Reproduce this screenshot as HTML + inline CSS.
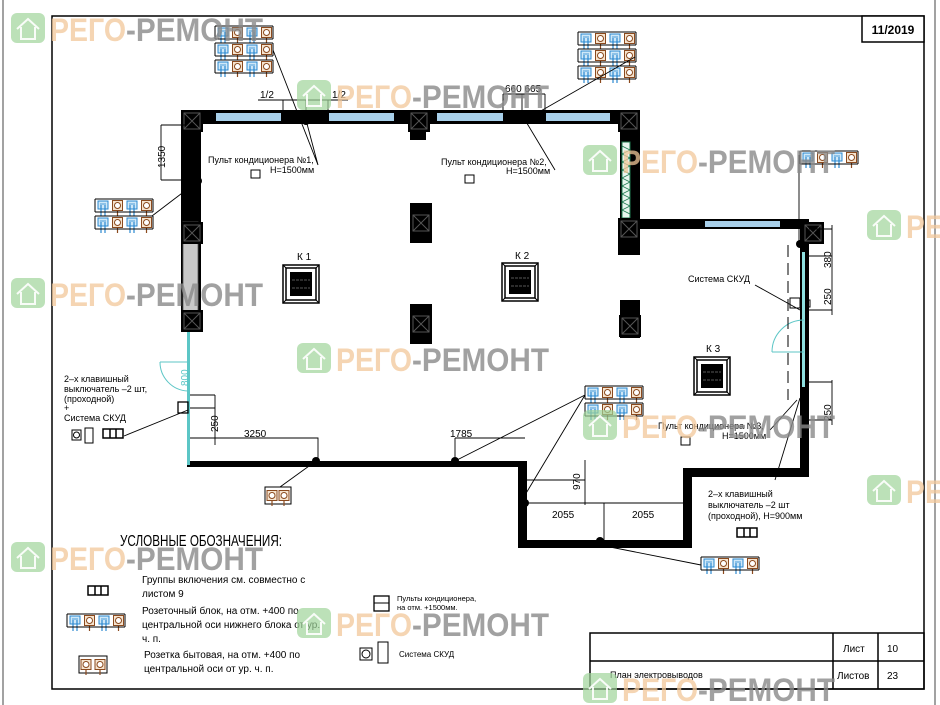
<!DOCTYPE html>
<html><head><meta charset="utf-8"><style>
html,body{margin:0;padding:0;background:#fff;}
svg{display:block;}
text{font-family:"Liberation Sans","DejaVu Sans",sans-serif;}
.wm1{fill:#f2c89a;opacity:.75;font-weight:bold;font-size:32px;}
.wm2{fill:#8a8a8a;opacity:.8;font-weight:bold;font-size:32px;}
.s{font-size:9px;fill:#000;}
.d{font-size:10px;fill:#000;}
</style></head><body>
<svg width="940" height="705" viewBox="0 0 940 705" xmlns="http://www.w3.org/2000/svg">
<defs>
<g id="bc">
<rect x="2" y="2" width="10" height="8" fill="#cfe8f8" stroke="#2a88d0" stroke-width="1"/>
<line x1="4" y1="5" x2="10" y2="5" stroke="#2a88d0" stroke-width="0.8"/>
<line x1="5" y1="6" x2="5" y2="17" stroke="#2a88d0" stroke-width="1.2"/>
<line x1="9" y1="6" x2="9" y2="17" stroke="#2a88d0" stroke-width="1.2"/>
</g>
<g id="rc">
<rect x="2" y="1.5" width="10" height="10" fill="#f6e4cf" stroke="#8b4a1e" stroke-width="1"/>
<circle cx="7" cy="6.5" r="3" fill="#fff" stroke="#8b4a1e" stroke-width="1"/>
<line x1="7" y1="11" x2="7" y2="17" stroke="#8b4a1e" stroke-width="1.2"/>
</g>
<g id="row">
<use href="#bc" x="1"/><use href="#rc" x="15.5"/><use href="#bc" x="30"/><use href="#rc" x="44.5"/>
<line x1="0" y1="0" x2="0" y2="13" stroke="#000" stroke-width="1"/>
<line x1="58" y1="0" x2="58" y2="13" stroke="#000" stroke-width="1"/>
<line x1="0" y1="13" x2="58" y2="13" stroke="#000" stroke-width="1"/>
<line x1="0" y1="0" x2="58" y2="0" stroke="#000" stroke-width="1"/>
</g>
<g id="col">
<rect x="0" y="0" width="22" height="22" fill="#000"/>
<path d="M3 3 L19 19 M19 3 L3 19" stroke="#555" stroke-width="1"/>
<rect x="3" y="3" width="16" height="16" fill="none" stroke="#555" stroke-width="1"/>
</g>
<g id="ac">
<rect x="0" y="0" width="36" height="38" fill="#fff" stroke="#000" stroke-width="1.5"/>
<rect x="3" y="3" width="30" height="32" fill="none" stroke="#000" stroke-width="1.5"/>
<rect x="7" y="7" width="22" height="24" fill="#000"/>
<path d="M9 15 H27 M9 23 H27" stroke="#777" stroke-width="0.8" stroke-dasharray="3 1"/>
<path d="M0 0 L3 3 M36 0 L33 3 M0 38 L3 35 M36 38 L33 35" stroke="#000"/>
</g>
<g id="wm">
<rect x="0" y="0" width="34" height="30" rx="6" fill="#9fd49a" opacity=".7"/>
<path d="M6 16 L17 6 L28 16 M10 14 V26 H24 V14" fill="none" stroke="#fff" stroke-width="2" opacity=".9"/>
<text x="39" y="28" class="wm1" textLength="76" lengthAdjust="spacingAndGlyphs">РЕГО</text><text x="115" y="28" class="wm2" textLength="137" lengthAdjust="spacingAndGlyphs">-РЕМОНТ</text>
</g>
</defs>

<line x1="3" y1="0" x2="3" y2="705" stroke="#444" stroke-width="1"/>
<line x1="935" y1="0" x2="935" y2="705" stroke="#444" stroke-width="1"/>
<rect x="52" y="16" width="872" height="673" fill="none" stroke="#000" stroke-width="1.5"/>
<rect x="862" y="16" width="62" height="26" fill="#fff" stroke="#000" stroke-width="1.5"/>
<text x="893" y="34" text-anchor="middle" font-size="12" font-weight="bold">11/2019</text>

<g fill="#000">
<rect x="181" y="110" width="459" height="14"/>
<rect x="181" y="110" width="20" height="222"/>
<rect x="620" y="110" width="20" height="145"/>
<rect x="620" y="219" width="189" height="10"/>
<rect x="800" y="219" width="9" height="258"/>
<rect x="683" y="468" width="126" height="9"/>
<rect x="683" y="468" width="9" height="80"/>
<rect x="518" y="540" width="174" height="8"/>
<rect x="518" y="461" width="9" height="87"/>
<rect x="187" y="461" width="340" height="6"/>
</g>
<g fill="#a8d0ea">
<rect x="216" y="113" width="65" height="8"/>
<rect x="329" y="113" width="65" height="8"/>
<rect x="437" y="113" width="66" height="8"/>
<rect x="546" y="113" width="64" height="8"/>
<rect x="705" y="221" width="75" height="6"/>
</g>
<rect x="183" y="222" width="15" height="98" fill="#c8c8c8" stroke="#555" stroke-width="0.8"/>
<rect x="622" y="142" width="8" height="76" fill="#e8f5ee" stroke="#1f7a50" stroke-width="1"/>
<path d="M622 146 l8 4 l-8 4 l8 4 l-8 4 l8 4 l-8 4 l8 4 l-8 4 l8 4 l-8 4 l8 4 l-8 4 l8 4 l-8 4 l8 4 l-8 4 l8 4" fill="none" stroke="#1f7a50" stroke-width="0.8"/>
<use href="#col" x="181" y="110"/><use href="#col" x="181" y="222"/><use href="#col" x="181" y="310"/>
<rect x="296" y="110" width="22" height="10" fill="#000"/>
<use href="#col" x="408" y="110"/><rect x="410" y="130" width="16" height="10" fill="#000"/>
<rect x="514" y="110" width="22" height="12" fill="#000"/>
<use href="#col" x="618" y="110"/><use href="#col" x="618" y="218"/><rect x="618" y="238" width="22" height="17" fill="#000"/>
<use href="#col" x="802" y="222"/>
<rect x="410" y="203" width="22" height="40" fill="#000"/><use href="#col" x="410" y="212"/>
<rect x="410" y="304" width="22" height="40" fill="#000"/><use href="#col" x="410" y="313"/>
<rect x="620" y="300" width="20" height="38" fill="#000"/><use href="#col" x="619" y="315"/>
<rect x="187" y="332" width="3" height="133" fill="#5cc6c6"/>
<path d="M160 362 A29 29 0 0 0 188 391" fill="none" stroke="#5cc6c6" stroke-width="1"/>
<line x1="160" y1="362" x2="188" y2="362" stroke="#5cc6c6"/>
<text x="0" y="0" font-size="10" fill="#5cc6c6" transform="translate(188,386) rotate(-90)">800</text>
<rect x="802" y="252" width="3" height="135" fill="#8ee0e0"/>
<path d="M804 320 A32 32 0 0 0 772 352" fill="none" stroke="#5cc6c6"/>
<line x1="772" y1="352" x2="804" y2="352" stroke="#5cc6c6"/>
<path d="M788 245 V400" stroke="#000" stroke-dasharray="12 6" stroke-width="1"/>

<use href="#ac" x="283" y="265"/><text x="297" y="260" class="d">К 1</text>
<use href="#ac" x="502" y="263"/><text x="515" y="259" class="d">К 2</text>
<use href="#ac" x="694" y="357"/><text x="706" y="352" class="d">К 3</text>

<g><use href="#row" x="215" y="26"/><use href="#row" x="215" y="43"/><use href="#row" x="215" y="60"/></g>
<g><use href="#row" x="578" y="32"/><use href="#row" x="578" y="49"/><use href="#row" x="578" y="66"/></g>
<g><use href="#row" x="95" y="199"/><use href="#row" x="95" y="216"/></g>
<use href="#row" x="800" y="151"/>
<g><use href="#row" x="585" y="386"/><use href="#row" x="585" y="403"/></g>
<use href="#row" x="701" y="557"/>
<g><rect x="265" y="487" width="26" height="17" fill="#fff" stroke="#000"/><use href="#rc" x="265" y="489"/><use href="#rc" x="277" y="489"/></g>

<g stroke="#000" stroke-width="0.9" fill="none">
<path d="M273 50 L318 165 L306 120"/>
<path d="M635 57 L525 120 L555 170"/>
<path d="M152 216 L198 181"/>
<path d="M799 155 V245"/>
<path d="M585 395 L455 461 M585 395 L525 495"/>
<path d="M701 565 L600 545"/>
<path d="M280 487 L316 461"/>
<path d="M124 436 L188 410"/>
<path d="M800 398 L775 480"/>
<path d="M755 285 L800 310"/>
<path d="M770 430 L797 400"/>
<path d="M161 125 V180 M161 125 H185 M161 180 H196"/>
<path d="M258 100 H348 M283 100 V110 M306 100 V110 M328 100 V110"/>
<path d="M503 94 H545 M503 94 V110 M522 94 V110 M545 94 V110"/>
<path d="M190 438 H318 V461 M455 438 V461 M455 438 H525"/>
<path d="M190 395 H215 M190 408 H215 M215 395 V445"/>
<path d="M527 503 H683 M604 503 V540"/>
<path d="M527 480 H585 M527 503 H585 M585 460 V505"/>
<path d="M809 229 H832 M809 256 H832 M809 310 H832 M832 225 V315"/>
<path d="M809 382 H832 M809 420 H832 M832 380 V425"/>
</g>
<g fill="#000">
<circle cx="306" cy="121" r="4"/><circle cx="525" cy="119" r="4"/><circle cx="198" cy="181" r="4"/>
<circle cx="316" cy="461" r="4"/><circle cx="455" cy="461" r="4"/><circle cx="525" cy="503" r="4"/>
<circle cx="600" cy="541" r="4"/><circle cx="800" cy="244" r="4"/>
</g>
<text x="260" y="98" class="d">1/2</text><text x="332" y="98" class="d">1/2</text>
<text x="505" y="92" class="d">660 665</text>
<text x="0" y="0" class="d" transform="translate(165,168) rotate(-90)">1350</text>
<text x="244" y="437" class="d">3250</text><text x="450" y="437" class="d">1785</text>
<text x="0" y="0" class="d" transform="translate(218,432) rotate(-90)">250</text>
<text x="0" y="0" class="d" transform="translate(580,490) rotate(-90)">970</text>
<text x="552" y="518" class="d">2055</text><text x="632" y="518" class="d">2055</text>
<text x="0" y="0" class="d" transform="translate(831,268) rotate(-90)">380</text>
<text x="0" y="0" class="d" transform="translate(831,305) rotate(-90)">250</text>
<text x="0" y="0" class="d" transform="translate(831,421) rotate(-90)">250</text>

<text x="208" y="163" class="s">Пульт  кондиционера №1,</text><text x="270" y="173" class="s">Н=1500мм</text>
<rect x="251" y="170" width="9" height="8" fill="none" stroke="#000"/>
<text x="441" y="165" class="s">Пульт  кондиционера №2,</text><text x="506" y="174" class="s">Н=1500мм</text>
<rect x="465" y="175" width="9" height="8" fill="none" stroke="#000"/>
<text x="688" y="282" class="s">Система  СКУД</text>
<rect x="790" y="298" width="10" height="10" fill="none" stroke="#000"/><rect x="806" y="300" width="4" height="7" fill="none" stroke="#000"/>
<text x="658" y="429" class="s">Пульт  кондиционера №3,</text><text x="722" y="439" class="s">Н=1500мм</text>
<rect x="681" y="437" width="9" height="8" fill="none" stroke="#000"/>
<text x="708" y="497" class="s">2–х  клавишный</text>
<text x="708" y="508" class="s">выключатель  –2  шт</text>
<text x="708" y="519" class="s">(проходной),  Н=900мм</text>
<rect x="737" y="528" width="20" height="9" fill="none" stroke="#000" stroke-width="1.5"/><path d="M744 528 V537 M750 528 V537" stroke="#000" stroke-width="1.5"/>
<text x="64" y="382" class="s">2–х  клавишный</text>
<text x="64" y="392" class="s">выключатель  –2  шт,</text>
<text x="64" y="402" class="s">(проходной)</text>
<text x="64" y="411" class="s">+</text>
<text x="64" y="421" class="s">Система  СКУД</text>
<rect x="178" y="402" width="10" height="11" fill="none" stroke="#000" stroke-width="1.3"/>
<rect x="72" y="430" width="9" height="10" fill="none" stroke="#000"/><circle cx="76.5" cy="435" r="3" fill="none" stroke="#000"/>
<rect x="85" y="428" width="8" height="15" fill="none" stroke="#000"/>
<rect x="103" y="429" width="20" height="9" fill="none" stroke="#000" stroke-width="1.5"/><path d="M110 429 V438 M116 429 V438" stroke="#000" stroke-width="1.5"/>

<text x="120" y="546" font-size="16" textLength="162" lengthAdjust="spacingAndGlyphs">УСЛОВНЫЕ  ОБОЗНАЧЕНИЯ:</text>
<rect x="88" y="586" width="20" height="9" fill="none" stroke="#000" stroke-width="1.5"/><path d="M95 586 V595 M101 586 V595" stroke="#000" stroke-width="1.5"/>
<text x="142" y="583" class="d">Группы  включения  см.  совместно  с</text>
<text x="142" y="597" class="d">листом  9</text>
<use href="#row" x="67" y="614"/>
<text x="142" y="614" class="d">Розеточный  блок,  на  отм.  +400  по</text>
<text x="142" y="628" class="d">центральной  оси  нижнего  блока  от  ур.</text>
<text x="142" y="642" class="d">ч.  п.</text>
<g><rect x="79" y="656" width="28" height="17" fill="#fff" stroke="#000"/><use href="#rc" x="79" y="658"/><use href="#rc" x="93" y="658"/></g>
<text x="144" y="658" class="d">Розетка   бытовая,  на  отм.  +400  по</text>
<text x="144" y="672" class="d">центральной  оси  от  ур.  ч.  п.</text>
<rect x="374" y="596" width="15" height="15" fill="none" stroke="#000" stroke-width="1.3"/><line x1="374" y1="603" x2="389" y2="603" stroke="#000"/>
<text x="397" y="601" font-size="7.5">Пульты  кондиционера,</text><text x="397" y="610" font-size="7.5">на  отм.  +1500мм.</text>
<rect x="360" y="648" width="12" height="12" fill="none" stroke="#000"/><circle cx="366" cy="654" r="4" fill="none" stroke="#000"/>
<rect x="378" y="642" width="10" height="21" fill="none" stroke="#000"/>
<text x="399" y="657" font-size="8">Система  СКУД</text>

<g stroke="#000" stroke-width="1.5" fill="none">
<rect x="590" y="633" width="334" height="56"/>
<line x1="590" y1="661" x2="924" y2="661"/>
<line x1="833" y1="633" x2="833" y2="689"/>
<line x1="878" y1="633" x2="878" y2="689"/>
</g>
<text x="843" y="652" class="d">Лист</text><text x="887" y="652" class="d">10</text>
<text x="837" y="679" class="d">Листов</text><text x="887" y="679" class="d">23</text>
<text x="610" y="678" class="s">План  электровыводов</text>

<use href="#wm" x="11" y="13"/>
<use href="#wm" x="297" y="80"/>
<use href="#wm" x="583" y="145"/>
<use href="#wm" x="867" y="210"/>
<use href="#wm" x="11" y="278"/>
<use href="#wm" x="297" y="343"/>
<use href="#wm" x="583" y="410"/>
<use href="#wm" x="867" y="475"/>
<use href="#wm" x="11" y="542"/>
<use href="#wm" x="297" y="608"/>
<use href="#wm" x="583" y="673"/>
</svg>
</body></html>
